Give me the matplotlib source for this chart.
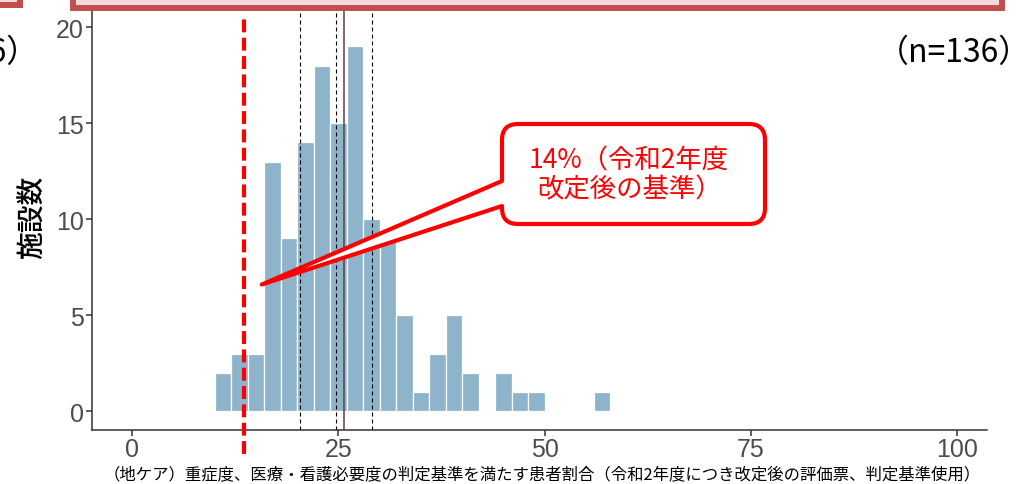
import matplotlib.pyplot as plt
from matplotlib.path import Path
from matplotlib.patches import PathPatch, Rectangle

# histogram (bin width 2)
bin_starts = [10, 12, 14, 16, 18, 20, 22, 24, 26, 28, 30, 32,
              34, 36, 38, 40, 42, 44, 46, 48, 50, 52, 54, 56]
counts = [2, 3, 3, 13, 9, 14, 18, 15, 19, 10, 9, 5,
          1, 3, 5, 2, 0, 2, 1, 1, 0, 0, 0, 1]
bin_width = 2

criterion = 13.6          # 14% criterion line (as drawn)
quartiles = [20.3, 24.7, 29.1]
mean_val = 25.7

xticks = [0, 25, 50, 75, 100]
yticks = [0, 5, 10, 15, 20]

callout_lines = ["14%（令和2年度", "改定後の基準）"]
callout_target = (15.7, 6.6)
n_label = "（n=136）"
ylabel = "施設数"
xlabel = "（地ケア）重症度、医療・看護必要度の判定基準を満たす患者割合（令和2年度につき改定後の評価票、判定基準使用）"

W, H = 1033, 485
fig = plt.figure(figsize=(W / 100, H / 100), dpi=100)

# main axes, placed in pixel units
left, right, bottom, top = 91.7, 986.7, 430.7, 0
ax = fig.add_axes([left / W, 1 - bottom / H, (right - left) / W, (bottom - top) / H])
ax.set_xlim(-4.93, 103.64)
ax.set_ylim(-0.96, 21.47)

ax.bar(bin_starts, counts, width=bin_width, align='edge',
       color='#8eb4cb', edgecolor='white', linewidth=0.9, zorder=2)

for q in quartiles:
    ax.axvline(q, color='black', lw=0.8, linestyle=(0, (3.6, 2.7)), zorder=3)
ax.axvline(mean_val, color='#5c4040', lw=1.1, zorder=3)
ax.plot([criterion, criterion], [-2.2, 20.7], color='#ff0000', lw=3,
        linestyle=(0, (3.1, 1.3)), clip_on=False, zorder=4)

for s in ['top', 'right']:
    ax.spines[s].set_visible(False)
for s in ['left', 'bottom']:
    ax.spines[s].set_color('#333333')
    ax.spines[s].set_linewidth(1.1)

ax.set_xticks(xticks)
ax.set_yticks(yticks)
ax.tick_params(axis='both', colors='#333333', labelcolor='#4d4d4d', length=4,
               width=1.1, labelsize=18)
ax.tick_params(axis='x', pad=1)
ax.tick_params(axis='y', pad=1.5)
for lab in ax.get_xticklabels() + ax.get_yticklabels():
    lab.set_fontfamily('Liberation Sans')

# overlay in pixel coordinates for the slide decorations
ov = fig.add_axes([0, 0, 1, 1], zorder=5)
ov.set_xlim(0, W)
ov.set_ylim(H, 0)
ov.axis('off')

ov.add_patch(Rectangle((73, -60), 1001.5 - 73, 68.8, facecolor='#f2dcdb',
                       edgecolor='#c0504d', lw=4.3))
ov.add_patch(Rectangle((-60, -60), 79.7, 66, facecolor='#f2dcdb',
                       edgecolor='#c0504d', lw=4.3))

# callout bubble pointing at the criterion
px, py = ax.transData.transform(callout_target)
apex = (px, H - py)
L, T, R, B, r = 502, 125, 765, 225, 16
verts = [(L, 182), apex, (L, 207), (L, B - r), (L, B), (L + r, B),
         (R - r, B), (R, B), (R, B - r), (R, T + r), (R, T), (R - r, T),
         (L + r, T), (L, T), (L, T + r), (L, 182), (L, 182)]
codes = [Path.MOVETO, Path.LINETO, Path.LINETO, Path.LINETO, Path.CURVE3, Path.CURVE3,
         Path.LINETO, Path.CURVE3, Path.CURVE3, Path.LINETO, Path.CURVE3, Path.CURVE3,
         Path.LINETO, Path.CURVE3, Path.CURVE3, Path.LINETO, Path.CLOSEPOLY]
ov.add_patch(PathPatch(Path(verts, codes), facecolor='white', edgecolor='#ff0000',
                       lw=3, joinstyle='round', zorder=2))

cjk = ['Noto Sans CJK JP', 'DejaVu Sans']
ov.text(629, 168.5, callout_lines[0], color='#ff0000', fontsize=19, family=cjk,
        ha='center', va='baseline', zorder=3)
ov.text(629, 197, callout_lines[1], color='#ff0000', fontsize=19, family=cjk,
        ha='center', va='baseline', zorder=3)

# sample size label (the left one is the cut-off neighbour panel on the slide)
ov.text(1031, 62, n_label, fontsize=23, family=cjk, ha='right', va='baseline')
ov.text(-115, 62, n_label, fontsize=23, family=cjk, ha='left', va='baseline')

ov.text(32, 217, ylabel, fontsize=20, family=cjk, weight='medium', rotation=90,
        ha='center', va='center')
ov.text(542, 475, xlabel, fontsize=11.8, family=cjk, ha='center', va='center')

fig.savefig('out.png', dpi=100)
